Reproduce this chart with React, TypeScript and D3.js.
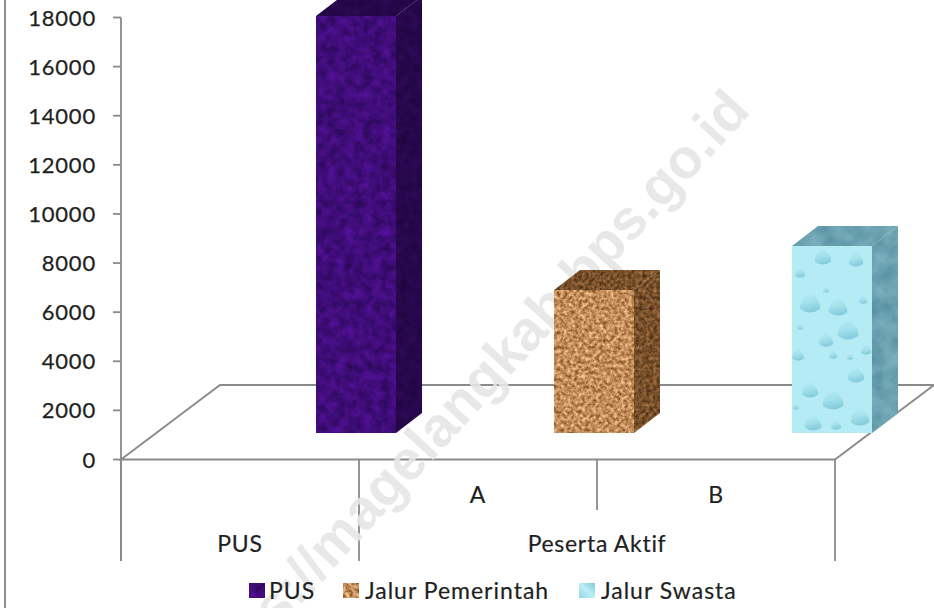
import React from "react";
import * as d3 from "d3";

const categories = ["PUS", "A", "B"];
const values = [16980, 5820, 7620];
const seriesNames = ["PUS", "Jalur Pemerintah", "Jalur Swasta"];
const ticks = [0, 2000, 4000, 6000, 8000, 10000, 12000, 14000, 16000, 18000];
const groupLabels = ["PUS", "Peserta Aktif"];
const watermark = "https://magelangkab.bps.go.id";
const drops: [number, number, number][] = [
  [31, 11, 8], [64, 14, 7], [8, 27, 5], [18, 57, 10], [46, 61, 9], [56, 84, 10], [34, 44, 3],
  [71, 54, 4], [8, 81, 3], [34, 94, 7], [6, 109, 6], [41, 109, 4], [58, 111, 3], [64, 129, 8],
  [18, 144, 8], [41, 154, 10], [68, 171, 9], [21, 177, 8], [4, 161, 3], [44, 179, 5], [74, 104, 5],
];

const W = 934, H = 608;
const axisX = 121, axisR = 835, y0 = 459.5, y18 = 17.5;
const depthX = 26, depthY = 20;
const barW = 80, barShift = 116, floorLift = 26.5;
const FONT = "Lato, Carlito, sans-serif";
const GRAY = "#8a8a8a";
const TEXT = "#1f1f1f";

const y = d3.scaleLinear().domain([0, 18000]).range([y0, y18]);
const x = d3.scaleBand().domain(categories).range([axisX, axisR]);

function Noise({ id, f, oct, c1, c2, seed, gain = 3 }: any) {
  const a = d3.rgb(c1), b = d3.rgb(c2);
  const row = (p: number, q: number) => {
    const s = ((p - q) / 255) * gain;
    const o = q / 255 - s * (0.5 - 0.5 / gain);
    return `${s} 0 0 0 ${o}`;
  };
  return (
    <filter id={id} x="0" y="0" width="100%" height="100%" colorInterpolationFilters="sRGB">
      <feTurbulence type="fractalNoise" baseFrequency={f} numOctaves={oct} seed={seed} />
      <feColorMatrix type="matrix" values={`${row(a.r, b.r)} ${row(a.g, b.g)} ${row(a.b, b.b)} 0 0 0 0 1`} />
      <feComposite in2="SourceAlpha" operator="in" />
    </filter>
  );
}

const poly = (pts: number[][]) => d3.line()(pts as any) + "Z";

export default function App() {
  const bars = categories.map((c, i) => {
    const left = x(c)! + x.bandwidth() / 2 + barShift - barW / 2;
    const bottom = y0 - floorLift;
    const top = y(values[i]) - floorLift;
    return { i, left, right: left + barW, top, bottom };
  });
  const ids = ["pus", "gov", "pri"];
  return (
    <svg width={W} height={H} style={{ position: "absolute", left: 0, top: 0, background: "#fff" }}>
      <defs>
        <Noise id="n-pus" f={0.11} oct={4} c1="#4c0f8c" c2="#330a66" seed={3} gain={2.4} />
        <Noise id="n-pus-d" f={0.11} oct={3} c1="#2c0954" c2="#210644" seed={5} gain={2.2} />
        <Noise id="n-gov" f={0.28} oct={3} c1="#e3ae7c" c2="#a06c38" seed={7} />
        <Noise id="n-gov-d" f={0.28} oct={3} c1="#936338" c2="#5e3d1e" seed={9} />
        <Noise id="n-pri-d" f={0.06} oct={3} c1="#78acba" c2="#5f97a8" seed={11} gain={2.2} />
        <linearGradient id="dropG" x1="0.2" y1="0" x2="0.4" y2="1">
          <stop offset="0" stopColor="#b8ecf6" />
          <stop offset="0.55" stopColor="#a2e0ec" />
          <stop offset="1" stopColor="#82cbdb" />
        </linearGradient>
        <pattern id="water" width="80" height="187" patternUnits="userSpaceOnUse" patternTransform="translate(792 246)">
          <rect width="80" height="187" fill="#b4ebf5" />
          {drops.map((d, i) => (
            <path
              key={i}
              d={`M${d[0]} ${d[1] - d[2] * 1.15}Q${d[0] + d[2] * 1.25} ${d[1]} ${d[0] + d[2]} ${d[1] + d[2] * 0.6}Q${d[0]} ${d[1] + d[2] * 1.3} ${d[0] - d[2]} ${d[1] + d[2] * 0.6}Q${d[0] - d[2] * 1.25} ${d[1]} ${d[0]} ${d[1] - d[2] * 1.15}Z`}
              fill="url(#dropG)"
            />
          ))}
        </pattern>
        <linearGradient id="legendWater" x1="0" y1="1" x2="1" y2="0">
          <stop offset="0" stopColor="#8fd5e6" />
          <stop offset="0.5" stopColor="#bdeef7" />
          <stop offset="1" stopColor="#7fc8dc" />
        </linearGradient>
      </defs>

      <rect x={4} y={0} width={2} height={H} fill="#8f8f8f" />

      {/* floor and axis */}
      <g fill="none" stroke={GRAY} strokeWidth={1.8}>
        <path d={poly([[axisX, y0], [axisX + 99, 385], [axisR + 99, 385], [axisR, y0]])} />
        <line x1={axisX} x2={axisX} y1={y18} y2={561} />
        {ticks.map(t => <line key={t} x1={113} x2={axisX} y1={y(t)} y2={y(t)} />)}
        {[0, 1, 3].map(k => <line key={k} x1={axisX + k * x.bandwidth()} x2={axisX + k * x.bandwidth()} y1={y0} y2={561} />)}
        <line x1={axisX + 2 * x.bandwidth()} x2={axisX + 2 * x.bandwidth()} y1={y0} y2={510} />
      </g>

      <text
        transform="translate(752 112) rotate(-47.5)"
        textAnchor="end"
        fontFamily="'Liberation Sans', Arial, sans-serif"
        fontWeight={700}
        fontSize={56}
        fill="#e6e6e6"
        opacity={0.9}
      >{watermark}</text>

      {/* bars */}
      {bars.map(b => {
        const front = poly([[b.left, b.top], [b.right, b.top], [b.right, b.bottom], [b.left, b.bottom]]);
        const side = poly([[b.right, b.top], [b.right + depthX, b.top - depthY], [b.right + depthX, b.bottom - depthY], [b.right, b.bottom]]);
        const top = poly([[b.left, b.top], [b.left + depthX, b.top - depthY], [b.right + depthX, b.top - depthY], [b.right, b.top]]);
        const k = ids[b.i];
        return (
          <g key={b.i}>
            {b.i === 2
              ? <path d={front} fill="url(#water)" />
              : <path d={front} filter={`url(#n-${k})`} fill="#000" />}
            <path d={side} filter={`url(#n-${k}-d)`} fill="#000" />
            <path d={top} filter={`url(#n-${k}-d)`} fill="#000" />
          </g>
        );
      })}

      {/* tick labels */}
      <g fontFamily={FONT} fontSize={22} fill={TEXT} stroke={TEXT} strokeWidth={0.25} textAnchor="end" style={{ letterSpacing: "0.8px" }}>
        {ticks.map(t => <text key={t} x={96} y={y(t) + 8}>{t}</text>)}
      </g>

      {/* category labels */}
      <g fontFamily={FONT} fontSize={23} fill={TEXT} stroke={TEXT} strokeWidth={0.2} textAnchor="middle" style={{ letterSpacing: "0.7px" }}>
        <text x={x("A")! + x.bandwidth() / 2} y={503}>{categories[1]}</text>
        <text x={x("B")! + x.bandwidth() / 2} y={503}>{categories[2]}</text>
        <text x={x("PUS")! + x.bandwidth() / 2} y={552}>{groupLabels[0]}</text>
        <text x={axisX + 2 * x.bandwidth()} y={552}>{groupLabels[1]}</text>
      </g>

      {/* legend */}
      <g fontFamily={FONT} fontSize={23} fill={TEXT} stroke={TEXT} strokeWidth={0.2} style={{ letterSpacing: "1px" }}>
        {seriesNames.map((s, i) => {
          const sx = [249, 343, 579][i];
          const tx = [269, 365, 601][i];
          return (
            <g key={s}>
              {i === 2
                ? <rect x={sx} y={583} width={16} height={15} fill="url(#legendWater)" stroke="none" />
                : <rect x={sx} y={583} width={16} height={15} fill="#000" stroke="none" filter={`url(#n-${ids[i]})`} />}
              <text x={tx} y={599}>{s}</text>
            </g>
          );
        })}
      </g>
    </svg>
  );
}
